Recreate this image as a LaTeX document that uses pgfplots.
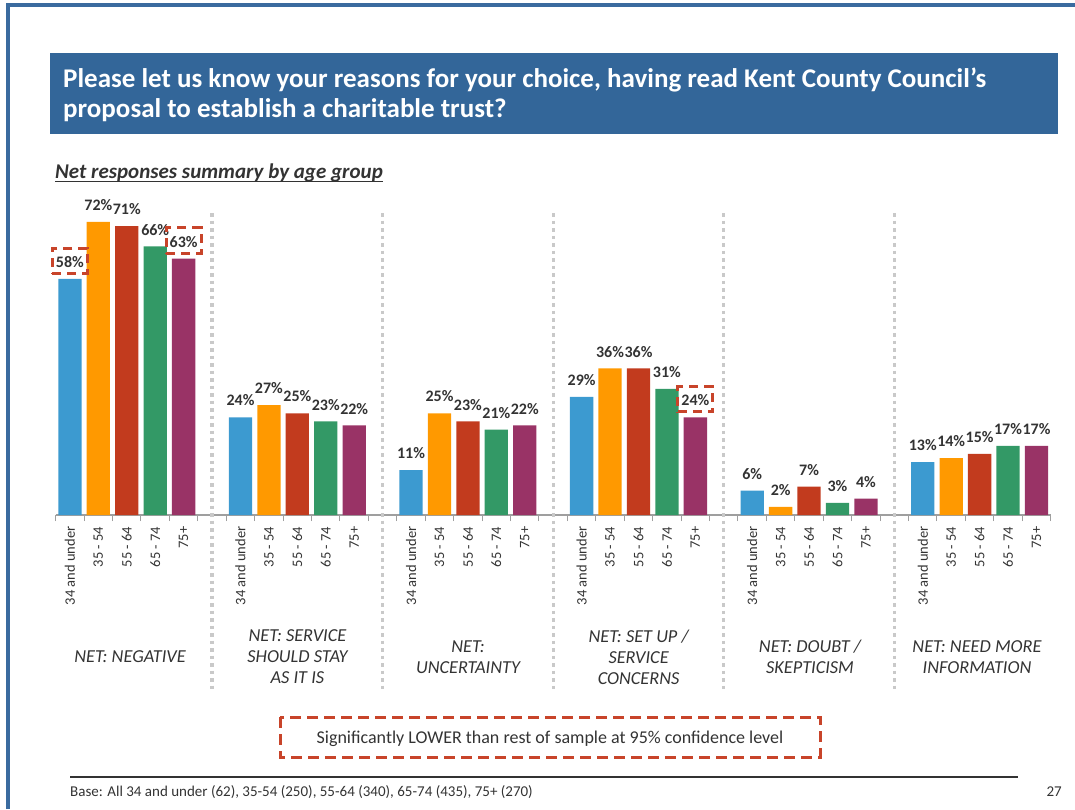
\documentclass[border=0pt]{standalone}
\usepackage{fontspec}
\setmainfont{Carlito}
\usepackage{pgfplots}
\pgfplotsset{compat=1.18}
\definecolor{cblue}{HTML}{3C9AD0}
\definecolor{corange}{HTML}{FF9900}
\definecolor{cred}{HTML}{C23B1E}
\definecolor{cgreen}{HTML}{339966}
\definecolor{cpurple}{HTML}{993366}
\definecolor{titleblue}{HTML}{336699}
\definecolor{pageblue}{HTML}{3A6B9F}
\definecolor{hl}{HTML}{C8442A}
\definecolor{sepgray}{HTML}{C9C9C9}
\definecolor{txt}{HTML}{333333}
\newcommand{\fs}[2]{\fontsize{#1pt}{#2pt}\selectfont}
\begin{document}
\begin{tikzpicture}
\useasboundingbox (0,0) rectangle (1075pt,809pt);
\begin{axis}[
  at={(55.7pt,294pt)}, anchor=south west,
  scale only axis, width=995pt, height=305.25pt,
  xmin=-0.5, xmax=34.5, ymin=0, ymax=75,
  clip=false,
  /pgf/number format/assume math mode=true,
  axis x line*=bottom, axis y line=none,
  x axis line style={-, draw=gray!75, line width=1.2pt},
  xtick={0,1,2,3,4,6,7,8,9,10,12,13,14,15,16,18,19,20,21,22,24,25,26,27,28,30,31,32,33,34},
  xticklabels={34 and under,35 - 54,55 - 64,65 - 74,75+,34 and under,35 - 54,55 - 64,65 - 74,75+,34 and under,35 - 54,55 - 64,65 - 74,75+,34 and under,35 - 54,55 - 64,65 - 74,75+,34 and under,35 - 54,55 - 64,65 - 74,75+,34 and under,35 - 54,55 - 64,65 - 74,75+},
  major tick length=0pt,
  minor xtick={-0.5,0.5,...,34.5},
  minor tick length=6pt,
  xtick align=outside,
  minor tick style={draw=gray!75, line width=1pt},
  xticklabel style={rotate=90, anchor=east, font=\fs{14.5}{17}, text=txt, inner sep=0pt, xshift=-11.5pt},
  ybar, bar width=23.3pt,
  nodes near coords={\pgfmathprintnumber{\pgfplotspointmeta}\%},
  every node near coord/.append style={font=\bfseries\fs{16}{18}, text=txt, inner sep=0pt, yshift=11pt},
]
\addplot[fill=cblue, draw=none, bar shift=0pt] coordinates {(0,58) (6,24) (12,11) (18,29) (24,6) (30,13)};
\addplot[fill=corange, draw=none, bar shift=0pt] coordinates {(1,72) (7,27) (13,25) (19,36) (25,2) (31,14)};
\addplot[fill=cred, draw=none, bar shift=0pt] coordinates {(2,71) (8,25) (14,23) (20,36) (26,7) (32,15)};
\addplot[fill=cgreen, draw=none, bar shift=0pt] coordinates {(3,66) (9,23) (15,21) (21,31) (27,3) (33,17)};
\addplot[fill=cpurple, draw=none, bar shift=0pt] coordinates {(4,63) (10,22) (16,22) (22,24) (28,4) (34,17)};
% significantly lower highlights
\addplot[fill=none, draw=none, bar shift=0pt,
  nodes near coords={\phantom{\pgfmathprintnumber{\pgfplotspointmeta}\%}},
  every node near coord/.append style={draw=hl, line width=3pt, dash pattern=on 9pt off 6pt, inner xsep=3.5pt, inner ysep=7pt, yshift=-7pt}]
  coordinates {(0,58) (4,63) (22,24)};
\pgfplotsinvokeforeach{5,11,17,23,29}{
  \draw[sepgray, line width=3.3pt, dash pattern=on 3.5pt off 4pt] (axis cs:#1,74.2) -- (axis cs:#1,-43.5);
}
\end{axis}
\begin{scope}[x=1pt,y=-1pt,yshift=809pt]
  % page border
  \draw[pageblue, line width=4pt] (8,809) -- (8,5) -- (1075,5);
  % title
  \fill[titleblue] (50,53) rectangle (1058,134);
  \node[anchor=base west, inner sep=0pt, text=white, font=\bfseries\fs{27}{30}] at (63,88) {Please let us know your reasons for your choice, having read Kent County Council’s};
  \node[anchor=base west, inner sep=0pt, text=white, font=\bfseries\fs{27}{30}] at (63,118) {proposal to establish a charitable trust?};
  % subtitle
  \node[anchor=base west, inner sep=0pt, text=txt, font=\bfseries\itshape\fs{21}{24}] (st) at (55,179) {Net responses summary by age group};
  \draw[txt, line width=1.2pt] ([yshift=-2.5pt]st.base west) -- ([yshift=-2.5pt]st.base east);
  % group labels
  \foreach \cx/\lab in {130/{NET: NEGATIVE}, 297.4/{NET: SERVICE\\SHOULD STAY\\AS IT IS}, 468/{NET:\\UNCERTAINTY}, 638.6/{NET: SET UP /\\SERVICE\\CONCERNS}, 810/{NET: DOUBT /\\SKEPTICISM}, 977/{NET: NEED MORE\\INFORMATION}}{
    \node[align=center, text=txt, font=\itshape\fs{18.3}{21}, inner sep=0pt] at (\cx,657) {\lab};
  }
  % legend
  \draw[hl, line width=3pt, dash pattern=on 11pt off 6pt] (280,717) rectangle (820,757);
  \node[anchor=base, inner sep=0pt, text=txt, font=\fs{18}{21}] at (550,743) {Significantly LOWER than rest of sample at 95\% confidence level};
  % footer
  \draw[black!80, line width=1.3pt] (70,777) -- (1018,777);
  \node[anchor=base west, inner sep=0pt, text=txt, font=\fs{15}{17}] at (70,796) {Base: All 34 and under (62), 35-54 (250), 55-64 (340), 65-74 (435), 75+ (270)};
  \node[anchor=base east, inner sep=0pt, text=txt, font=\fs{15}{17}] at (1062,796) {27};
\end{scope}
\end{tikzpicture}
\end{document}
